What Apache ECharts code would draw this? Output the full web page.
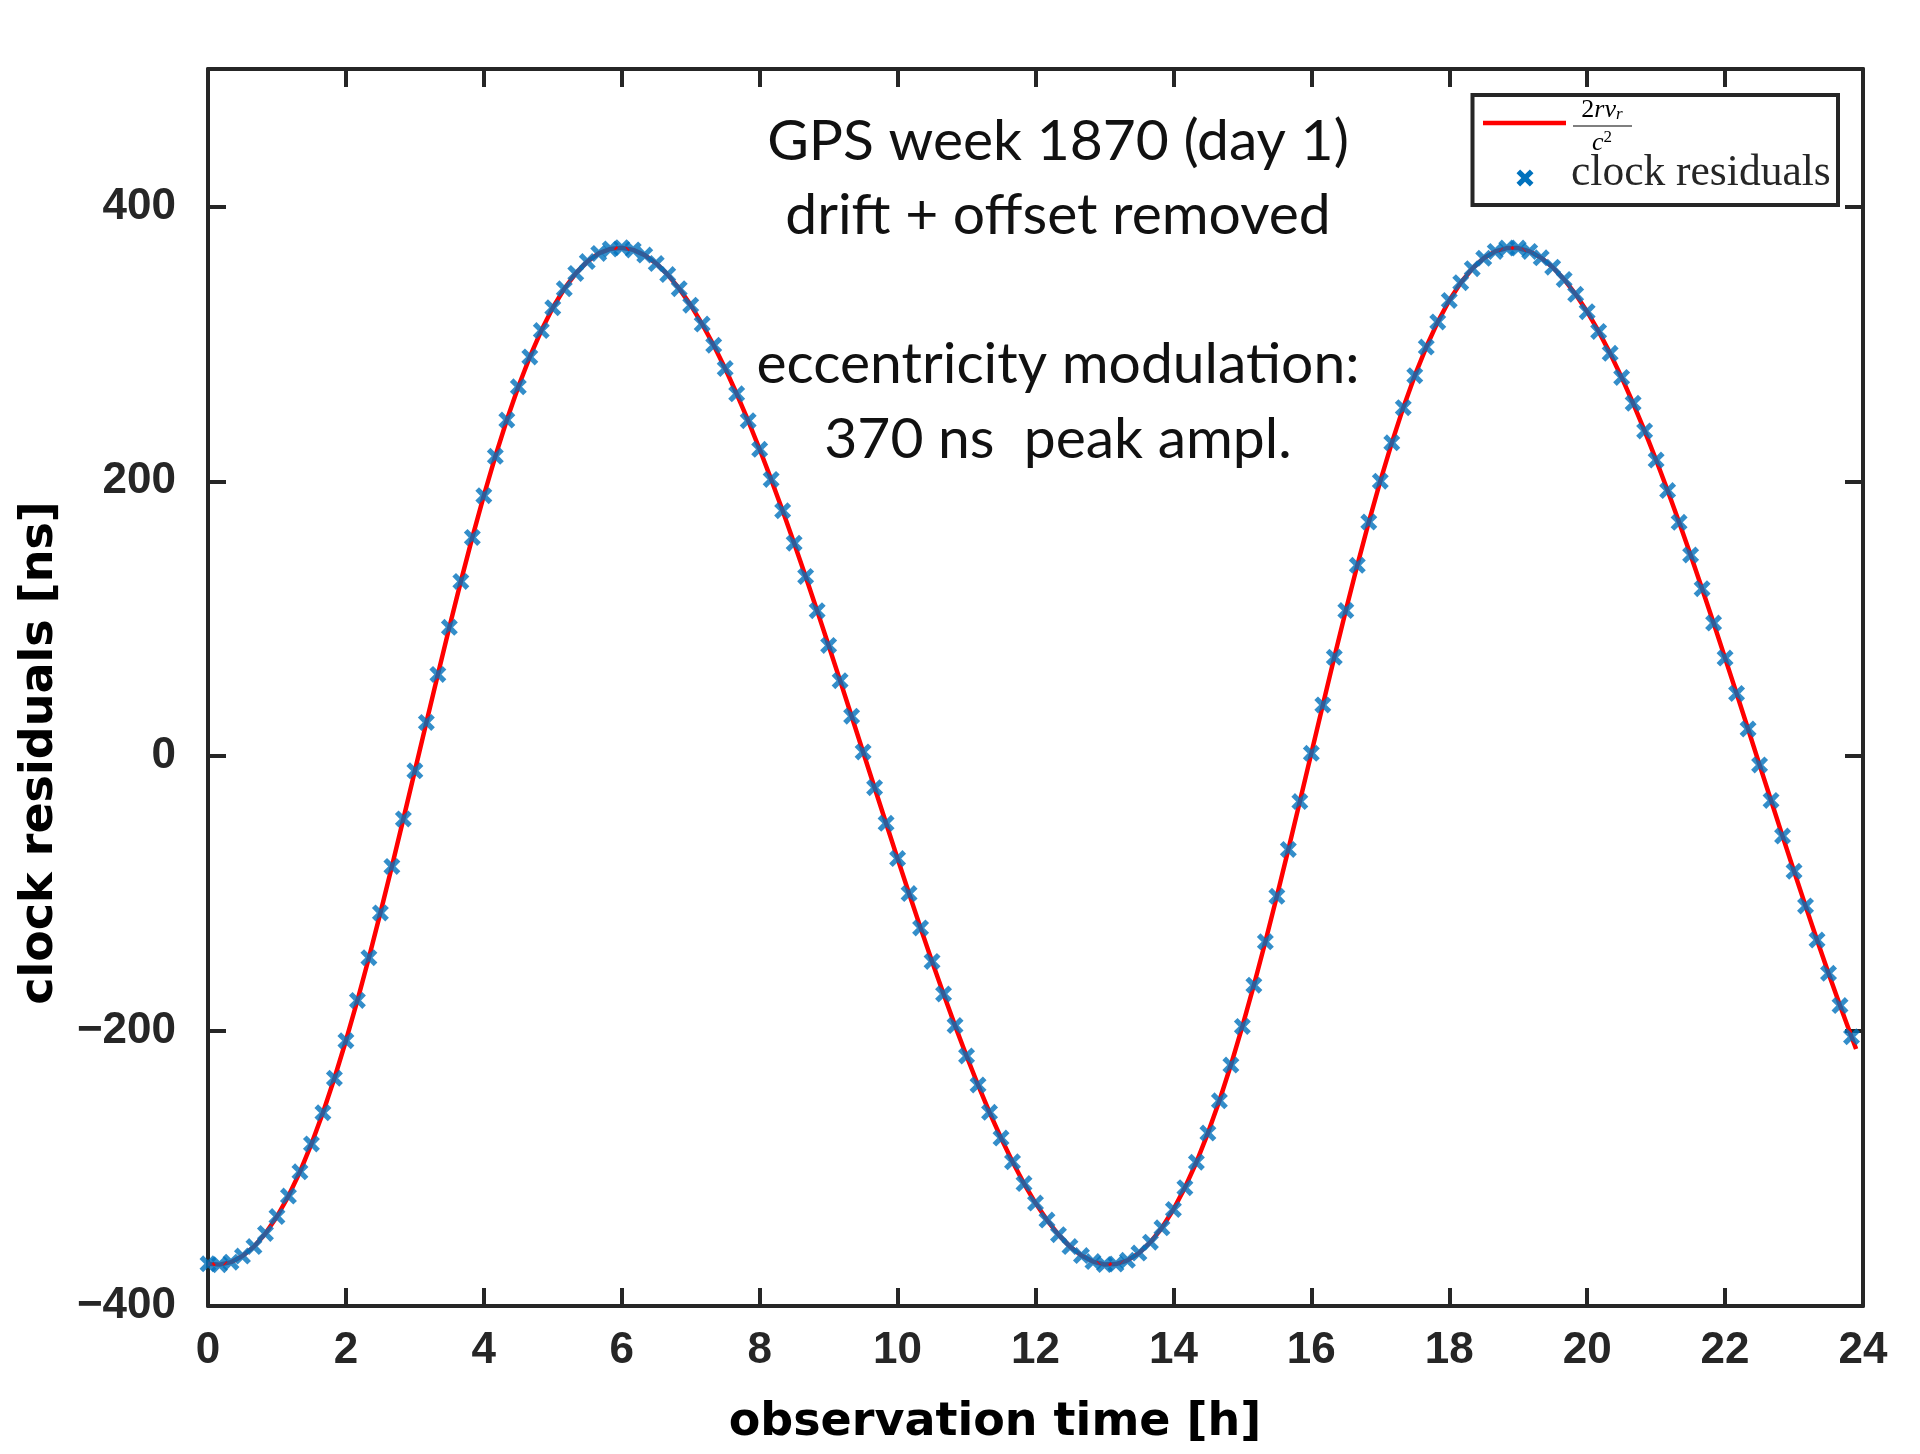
<!DOCTYPE html>
<html>
<head>
<meta charset="utf-8">
<script src="https://cdn.jsdelivr.net/npm/echarts@6/dist/echarts.min.js"></script>
<style>
  html, body { margin: 0; padding: 0; background: #ffffff; }
  #chart { width: 1920px; height: 1454px; }
</style>
</head>
<body>
<div id="chart"></div>
<script>
// ---- data ----
// observation epochs, minutes since start of day (10-minute sampling)
const epochMinutes = [0,10,20,30,40,50,60,70,80,90,100,110,120,130,140,150,160,170,180,190,200,210,220,230,240,250,260,270,280,290,300,310,320,330,340,350,360,370,380,390,400,410,420,430,440,450,460,470,480,490,500,510,520,530,540,550,560,570,580,590,600,610,620,630,640,650,660,670,680,690,700,710,720,730,740,750,760,770,780,790,800,810,820,830,840,850,860,870,880,890,900,910,920,930,940,950,960,970,980,990,1000,1010,1020,1030,1040,1050,1060,1070,1080,1090,1100,1110,1120,1130,1140,1150,1160,1170,1180,1190,1200,1210,1220,1230,1240,1250,1260,1270,1280,1290,1300,1310,1320,1330,1340,1350,1360,1370,1380,1390,1400,1410,1420,1430];
// clock residuals [ns]
const clockResidualsNs = [-369.3,-369.9,-368.1,-363.7,-356.8,-347.2,-334.9,-320.0,-302.4,-282.1,-259.4,-234.3,-207.0,-177.7,-146.6,-114.0,-80.2,-45.6,-10.6,24.6,59.5,93.8,127.2,159.2,189.6,218.2,244.6,268.8,290.5,309.7,326.3,340.1,351.3,359.9,365.8,369.1,370.0,368.4,364.6,358.5,350.4,340.2,328.2,314.4,299.0,282.1,263.7,244.1,223.3,201.4,178.6,155.0,130.8,105.9,80.6,55.0,29.1,3.1,-22.9,-48.8,-74.5,-99.9,-124.9,-149.3,-173.0,-196.0,-218.1,-239.2,-259.1,-277.8,-295.1,-310.9,-325.1,-337.5,-348.1,-356.8,-363.3,-367.7,-369.8,-369.5,-366.8,-361.5,-353.6,-343.1,-329.8,-313.9,-295.4,-274.2,-250.7,-224.7,-196.6,-166.6,-135.0,-101.9,-67.8,-33.0,2.1,37.3,72.0,106.0,138.9,170.4,200.1,228.0,253.6,276.9,297.7,316.0,331.6,344.5,354.7,362.3,367.3,369.7,369.7,367.3,362.6,355.8,346.9,336.1,323.4,309.1,293.1,275.6,256.8,236.7,215.5,193.3,170.2,146.4,121.9,96.9,71.4,45.7,19.8,-6.3,-32.2,-58.1,-83.7,-108.9,-133.7,-157.9,-181.4,-204.1];
// the model curve 2 r v_r / c^2 follows the residuals and runs a little past the last epoch
const modelTailMinutes = [1434];
const modelTailNs = [-213];
// axis ticks
const xTickHours = [0,2,4,6,8,10,12,14,16,18,20,22,24];
const yTickNs = [-400,-200,0,200,400];
const yAxisTop = 500;

// ---- build series data ----
const residualPoints = epochMinutes.map((m, i) => [m / 60, clockResidualsNs[i]]);
const modelPoints = residualPoints.concat(modelTailMinutes.map((m, i) => [m / 60, modelTailNs[i]]));

const AXIS_COLOR = '#262626';
const xMarker = 'path://M0,3 L3,0 L7,4 L11,0 L14,3 L10,7 L14,11 L11,14 L7,10 L3,14 L0,11 L4,7 Z';
// same X shape as a polygon for the legend key (14-unit box)
const xShape = [[0,3],[3,0],[7,4],[11,0],[14,3],[10,7],[14,11],[11,14],[7,10],[3,14],[0,11],[4,7]];

const tickFont = { fontFamily: 'Liberation Sans', fontWeight: 'bold', fontSize: 44, color: AXIS_COLOR };
const axisLine = { show: true, onZero: false, lineStyle: { color: AXIS_COLOR, width: 4 } };
const axisTick = { show: true, inside: true, length: 18, lineStyle: { color: AXIS_COLOR, width: 4 } };

function xAxisDef(pos, showLabels) {
  return {
    type: 'value', position: pos,
    min: xTickHours[0], max: xTickHours[xTickHours.length - 1],
    interval: xTickHours[1] - xTickHours[0],
    axisLine: axisLine, axisTick: axisTick, splitLine: { show: false },
    axisLabel: Object.assign({ show: showLabels, margin: 23 }, tickFont)
  };
}
function yAxisDef(pos, showLabels) {
  return {
    type: 'value', position: pos,
    min: yTickNs[0], max: yAxisTop,
    interval: yTickNs[1] - yTickNs[0],
    axisLine: axisLine, axisTick: axisTick, splitLine: { show: false },
    axisLabel: Object.assign({
      show: showLabels, margin: 32,
      formatter: v => (yTickNs.indexOf(v) >= 0 ? String(v).replace('-', '\u2212') : '')
    }, tickFont)
  };
}

const legendKeySize = 17, legendKeyX = 1516.5, legendKeyY = 169.5;

const chart = echarts.init(document.getElementById('chart'), null, { renderer: 'canvas' });
chart.setOption({
  animation: false,
  backgroundColor: '#ffffff',
  grid: { left: 208, right: 57, top: 69, bottom: 148, containLabel: false },
  xAxis: [xAxisDef('bottom', true), xAxisDef('top', false)],
  yAxis: [yAxisDef('left', true), yAxisDef('right', false)],
  series: [
    {
      name: '2rv_r/c^2', type: 'line', xAxisIndex: 0, yAxisIndex: 0,
      data: modelPoints, showSymbol: false, smooth: false,
      lineStyle: { color: '#ff0000', width: 4.5 }, z: 2
    },
    {
      name: 'clock residuals', type: 'scatter', xAxisIndex: 0, yAxisIndex: 0,
      data: residualPoints, symbol: xMarker, symbolSize: 17,
      itemStyle: { color: '#0072bd' }, z: 3
    }
  ],
  graphic: [
    // annotation
    {
      type: 'text', x: 1058, y: 104, z: 10,
      style: {
        text: 'GPS week 1870 (day 1)\ndrift + offset removed\n\neccentricity modulation:\n370 ns  peak ampl.',
        font: '57px Lato', lineHeight: 74.5, fill: '#111111',
        align: 'center', verticalAlign: 'top'
      }
    },
    // axis titles
    {
      type: 'text', x: 995, y: 1423, z: 10,
      style: {
        text: 'observation time [h]', font: 'bold 46px "DejaVu Sans"', fill: '#000000',
        align: 'center', verticalAlign: 'middle'
      }
    },
    {
      type: 'text', x: 40, y: 753, rotation: Math.PI / 2, z: 10,
      style: {
        text: 'clock residuals [ns]', font: 'bold 46px "DejaVu Sans"', fill: '#000000',
        align: 'center', verticalAlign: 'middle'
      }
    },
    // legend box
    {
      type: 'rect', z: 20,
      shape: { x: 1472.5, y: 95, width: 365.5, height: 110 },
      style: { fill: '#ffffff', stroke: AXIS_COLOR, lineWidth: 4 }
    },
    {
      type: 'line', z: 21,
      shape: { x1: 1483, y1: 123, x2: 1566, y2: 123 },
      style: { stroke: '#ff0000', lineWidth: 4.5 }
    },
    {
      type: 'text', x: 1602, y: 110, z: 21,
      style: {
        text: '{a|2}{b|rv}{s|r}', align: 'center', verticalAlign: 'middle',
        rich: {
          a: { fontFamily: 'Liberation Serif', fontSize: 26, color: '#444444' },
          b: { fontFamily: 'Liberation Serif', fontStyle: 'italic', fontSize: 26, color: '#444444' },
          s: { fontFamily: 'Liberation Serif', fontStyle: 'italic', fontSize: 17, color: '#444444', verticalAlign: 'bottom', padding: [10, 0, 0, 0] }
        }
      }
    },
    {
      type: 'line', z: 21,
      shape: { x1: 1573, y1: 126, x2: 1632, y2: 126 },
      style: { stroke: '#555555', lineWidth: 1.5 }
    },
    {
      type: 'text', x: 1602, y: 143, z: 21,
      style: {
        text: '{b|c}{p|2}', align: 'center', verticalAlign: 'middle',
        rich: {
          b: { fontFamily: 'Liberation Serif', fontStyle: 'italic', fontSize: 26, color: '#444444' },
          p: { fontFamily: 'Liberation Serif', fontSize: 17, color: '#444444', verticalAlign: 'top', padding: [0, 0, 10, 0] }
        }
      }
    },
    {
      type: 'polygon', z: 21,
      shape: { points: xShape.map(p => [legendKeyX + p[0] * legendKeySize / 14, legendKeyY + p[1] * legendKeySize / 14]) },
      style: { fill: '#0072bd' }
    },
    {
      type: 'text', x: 1571, y: 174, z: 21,
      style: {
        text: 'clock residuals', font: '43.5px "Liberation Serif"', fill: '#262626',
        align: 'left', verticalAlign: 'middle'
      }
    }
  ]
});
</script>
</body>
</html>
